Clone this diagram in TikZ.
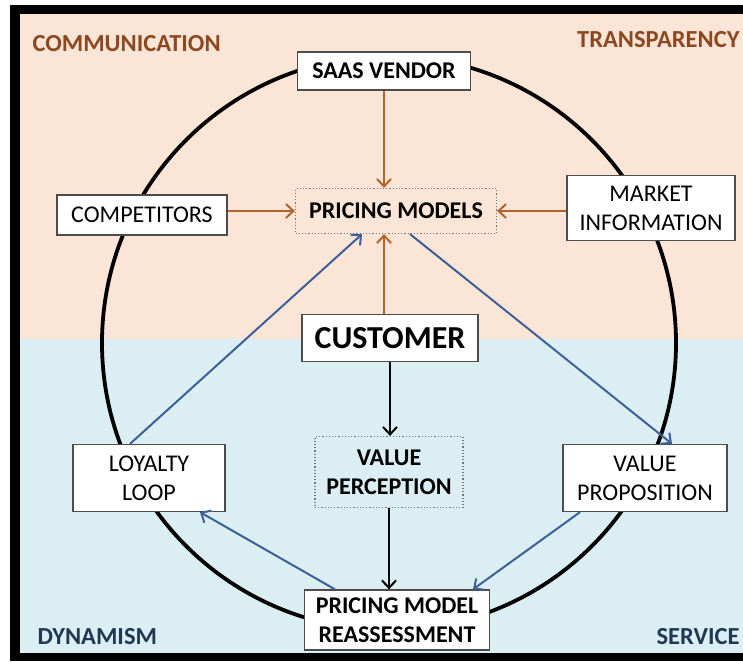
\documentclass[tikz,border=0pt]{standalone}
\usepackage{fontspec}
\setmainfont{Carlito}
\usetikzlibrary{arrows.meta,calc}

\definecolor{peach}{RGB}{251,229,214}
\definecolor{paleblue}{RGB}{218,238,243}
\definecolor{rusttext}{RGB}{140,72,32}
\definecolor{rustline}{RGB}{180,100,42}
\definecolor{loopline}{RGB}{62,96,152}
\definecolor{navytext}{RGB}{32,56,84}

\tikzset{
  box/.style={draw=black!70, line width=1.3pt, fill=white, align=center, inner sep=0pt,
    font=\fontsize{24}{29}\selectfont},
  dotbox/.style={draw=black!55, dotted, line width=1.2pt, align=center, inner sep=0pt,
    font=\bfseries\fontsize{24}{29}\selectfont},
  corner/.style={font=\bfseries\fontsize{24.5}{28}\selectfont},
  flow/.style={line width=2pt, -{Straight Barb[length=7.5pt,width=14pt]}},
}

\begin{document}
\begin{tikzpicture}[x=1pt, y=-1pt]
            \useasboundingbox (0,0) rectangle (743,661);

            % Drawing background bands
            \fill [peach] (20,14) rectangle (743,339);
            \fill [paleblue] (20,339) rectangle (743,653);

            % Drawing frame
            \fill [black] (10,5) rectangle (743,14);
            \fill [black] (10,5) rectangle (20,661);
            \fill [black] (10,653) rectangle (743,661);

            % Drawing circle
            \draw [line width=3.8pt] (389,343) circle (287pt);

            % Drawing nodes
            \node [box, font=\bfseries\fontsize{24}{29}\selectfont, minimum width=173, minimum height=38] (vendor) at (384,71) {SAAS VENDOR};
            \node [dotbox, minimum width=201, minimum height=45] (models) at (396,211) {PRICING MODELS};
            \node [box, minimum width=170, minimum height=40] (competitors) at (142,215) {COMPETITORS};
            \node [box, minimum width=168, minimum height=65] (market) at (651,208) {MARKET\\INFORMATION};
            \node [box, font=\bfseries\fontsize{32}{36}\selectfont, minimum width=176, minimum height=47] (customer) at (390,338) {CUSTOMER};
            \node [dotbox, minimum width=148, minimum height=71] (perception) at (389,472) {VALUE\\PERCEPTION};
            \node [box, minimum width=152, minimum height=67] (loyalty) at (149,478) {LOYALTY\\LOOP};
            \node [box, minimum width=164, minimum height=67] (proposition) at (645,478) {VALUE\\PROPOSITION};
            \node [box, font=\bfseries\fontsize{24}{29}\selectfont, minimum width=185, minimum height=60] (reassess) at (397,620) {PRICING MODEL\\REASSESSMENT};

            % Drawing arrows into pricing models
            \draw [flow, rustline] (vendor.south) -- (vendor.south |- models.north);
            \draw [flow, rustline] (competitors.east |- models.west) -- (models.west);
            \draw [flow, rustline] (market.west |- models.east) -- (models.east);
            \draw [flow, rustline] (customer.north -| vendor.south) -- (models.south -| vendor.south);

            % Drawing customer path
            \draw [flow, black] (customer.south) -- (customer.south |- perception.north);
            \draw [flow, black] (perception.south) -- (perception.south |- reassess.north);

            % Drawing loop
            \draw [flow, loopline] ($(models.south)+(14,0)$) -- ($(proposition.north)+(27,0)$);
            \draw [flow, loopline] ($(proposition.south)+(-65,0)$) -- ($(reassess.north)+(76,0)$);
            \draw [flow, loopline] ($(reassess.north)+(-62,0)$) -- ($(loyalty.south)+(51,0)$);
            \draw [flow, loopline] ($(loyalty.north)+(-19,0)$) -- ($(models.south)+(-34,0)$);

            % Marking corner labels
            \node [corner, rusttext, anchor=west] (communication) at (29,44) {COMMUNICATION};
            \node [corner, rusttext, anchor=east] (transparency) at (743,40) {TRANSPARENCY};
            \node [corner, navytext, anchor=west] (dynamism) at (34,637) {DYNAMISM};
            \node [corner, navytext, anchor=east] (service) at (743,637) {SERVICE};
\end{tikzpicture}
\end{document}
